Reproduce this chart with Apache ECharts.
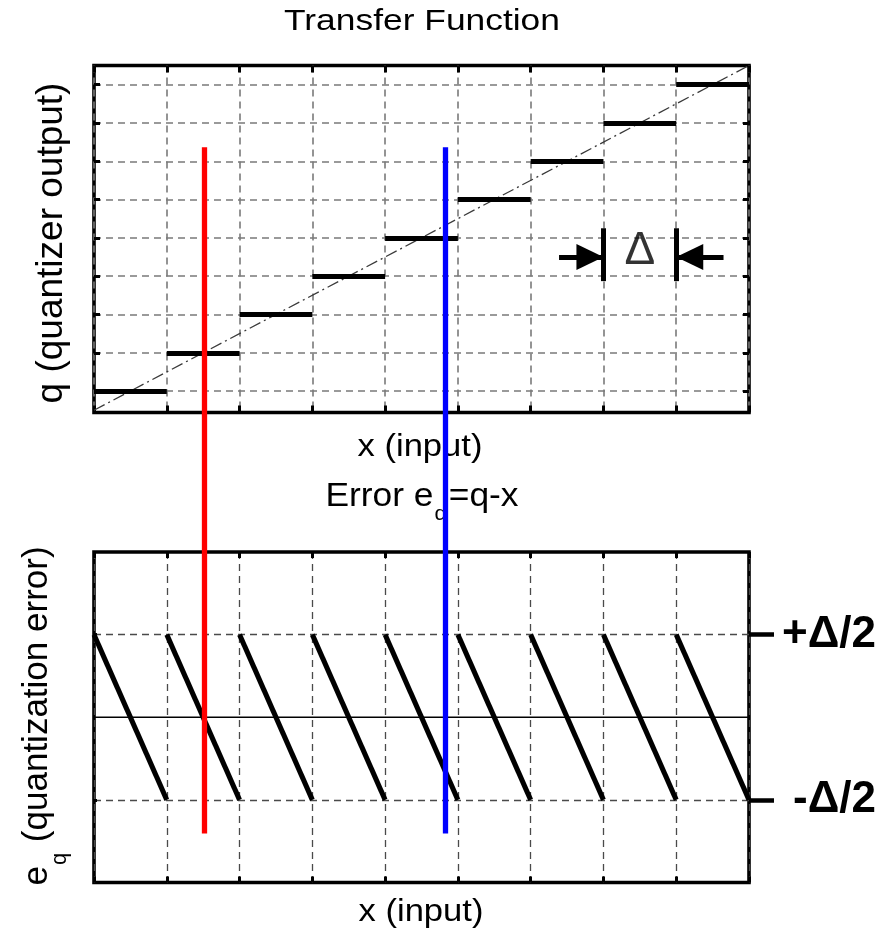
<!DOCTYPE html>
<html>
<head>
<meta charset="utf-8">
<script src="https://cdn.jsdelivr.net/npm/echarts@6/dist/echarts.min.js"></script>
<style>
  html, body { margin: 0; padding: 0; background: #fff; }
  #c { width: 884px; height: 935px; }
</style>
</head>
<body>
<div id="c"></div>
<script>
// Uniform quantizer: every input cell [start, end) maps to one output level
const cellStarts   = [0, 1, 2, 3, 4, 5, 6, 7, 8];
const cellEnds     = [1, 2, 3, 4, 5, 6, 7, 8, 9];
const outputLevels = [0, 1, 2, 3, 4, 5, 6, 7, 8];
const levelTicks   = [0, 1, 2, 3, 4, 5, 6, 7, 8];

// Unquantized reference response (dash-dot diagonal)
const idealX = [0, 9];
const idealQ = [-0.5, 8.5];

// Quantization error e_q = q - x at the start and the end of each cell
const errorAtStart = [0.5, 0.5, 0.5, 0.5, 0.5, 0.5, 0.5, 0.5, 0.5];
const errorAtEnd   = [-0.5, -0.5, -0.5, -0.5, -0.5, -0.5, -0.5, -0.5, -0.5];
const errorTickValues = [0.5, -0.5];
const errorTickLabels = ['+Δ/2', '-Δ/2'];
const zeroLineX = [0, 9];

// Two probe inputs drawn through both panels (y in % of the stacked height)
const probeInputs = [1.52, 4.83];
const probeColors = ['#ff0000', '#0000ff'];
const probeSpan   = [6, 90];

// Step-size marker: bars at the edges of one cell, arrows pointing at them
const deltaBarX      = [7, 8];
const deltaBarY      = [2.87, 4.25];
const deltaArrowFrom = [6.39, 8.65];
const deltaArrowY    = 3.5;

const FONT = '"Liberation Sans", Arial, Helvetica, sans-serif';
const chart = echarts.init(document.getElementById('c'), null, { renderer: 'canvas' });

const TOP = { left: 94, right: 135, top: 65.5, bottom: 522.5 };
const BOT = { left: 94, right: 135, top: 552, bottom: 52.5 };
const ALL = { left: 94, right: 135, top: 65.5, bottom: 52.5 };

const frame = { show: true, borderColor: '#000', borderWidth: 3.6, backgroundColor: 'transparent', outerBoundsMode: 'none' };

const topGrid = { color: '#7a7a7a', width: 1.6, type: [7, 5] };
const botGrid = { color: '#4a4a4a', width: 1.3, type: [7, 5] };

function xAxis(gridIndex, position, tickLen, split) {
  return {
    gridIndex, type: 'value', min: 0, max: 9, interval: 1, position,
    axisLine: { show: false, onZero: false },
    axisTick: { show: true, inside: true, length: tickLen, lineStyle: { color: '#000', width: 3 } },
    axisLabel: { show: false },
    splitLine: split ? { show: true, lineStyle: split } : { show: false }
  };
}

function yAxis(gridIndex, min, max, position, tick, split, label) {
  const ax = {
    gridIndex, type: 'value', min, max, position,
    axisLine: { show: false, onZero: false },
    axisTick: tick,
    axisLabel: label || { show: false },
    splitLine: split ? { show: true, lineStyle: split } : { show: false }
  };
  return ax;
}

// arrowhead whose tip sits on the line end (square bounding box keeps the centre on the tip)
const arrowHead = 'path://M-27,-27 M27,27 M0,0 L13,27 L-13,27 Z';

const levelTick = { show: true, inside: true, length: 6, customValues: levelTicks, lineStyle: { color: '#000', width: 3 } };

const option = {
  animation: false,
  backgroundColor: '#fff',
  grid: [
    Object.assign({}, frame, TOP),
    Object.assign({}, frame, BOT),
    Object.assign({ show: false, outerBoundsMode: 'none' }, ALL)
  ],
  xAxis: [
    xAxis(0, 'bottom', 7, topGrid),
    xAxis(0, 'top', 7, null),
    xAxis(1, 'bottom', 6, botGrid),
    xAxis(1, 'top', 6, null),
    { gridIndex: 2, type: 'value', min: 0, max: 9, show: false, axisLine: { onZero: false } }
  ],
  yAxis: [
    yAxis(0, -0.56, 8.5, 'left', levelTick, topGrid),
    yAxis(0, -0.56, 8.5, 'right', levelTick, null),
    yAxis(1, -1, 1, 'left',
      { show: true, inside: true, length: 3, customValues: errorTickValues, lineStyle: { color: '#000', width: 3 } },
      botGrid),
    yAxis(1, -1, 1, 'right',
      { show: true, inside: false, length: 25, customValues: errorTickValues, lineStyle: { color: '#000', width: 4.5 } },
      null,
      {
        show: true, customValues: errorTickValues,
        formatter: v => errorTickLabels[errorTickValues.indexOf(v)],
        color: '#000', fontFamily: FONT, fontSize: 44, fontWeight: 'bold',
        align: 'right', verticalAlign: 'middle', margin: 127
      }),
    { gridIndex: 2, type: 'value', min: 0, max: 100, show: false, axisLine: { onZero: false } }
  ],
  graphic: [
    { type: 'text', x: 422, y: 21.6, scaleX: 1.22, z: 0,
      style: { text: 'Transfer Function', fontFamily: FONT, fontSize: 29, fill: '#000', align: 'center', verticalAlign: 'middle' } },
    { type: 'text', x: 420, y: 447, scaleX: 1.08, z: 0,
      style: { text: 'x (input)', fontFamily: FONT, fontSize: 32, fill: '#000', align: 'center', verticalAlign: 'middle' } },
    { type: 'text', x: 422, y: 479.2, scaleX: 1.04, z: 0,
      style: {
        text: '{m|Error e}{s|q}{m|=q-x}', align: 'center', verticalAlign: 'top', fill: '#000',
        rich: {
          m: { fontFamily: FONT, fontSize: 34, lineHeight: 34, verticalAlign: 'top', fill: '#000' },
          s: { fontFamily: FONT, fontSize: 21, lineHeight: 21, verticalAlign: 'top', padding: [25, 2, 0, 1], fill: '#000' }
        }
      } },
    { type: 'text', x: 421, y: 912, scaleX: 1.08, z: 0,
      style: { text: 'x (input)', fontFamily: FONT, fontSize: 32, fill: '#000', align: 'center', verticalAlign: 'middle' } },
    { type: 'text', x: 51.4, y: 243, rotation: Math.PI / 2, z: 0,
      style: { text: 'q (quantizer output)', fontFamily: FONT, fontSize: 37, fill: '#000', align: 'center', verticalAlign: 'middle' } },
    { type: 'text', x: 19.9, y: 716, rotation: Math.PI / 2, z: 0,
      style: {
        text: '{m|e}{s|q}{m| (quantization error)}', align: 'center', verticalAlign: 'top', fill: '#000',
        rich: {
          m: { fontFamily: FONT, fontSize: 35, lineHeight: 35, verticalAlign: 'top', fill: '#000' },
          s: { fontFamily: FONT, fontSize: 22, lineHeight: 22, verticalAlign: 'top', padding: [29, 1, 0, 1], fill: '#000' }
        }
      } }
  ],
  series: [
    // reference diagonal
    {
      type: 'line', xAxisIndex: 0, yAxisIndex: 0, z: 2, symbol: 'none', silent: true,
      data: idealX.map((x, i) => [x, idealQ[i]]),
      lineStyle: { color: '#3a3a3a', width: 1.3, type: [12, 4, 2, 4] }
    },
    // quantizer staircase
    {
      type: 'lines', coordinateSystem: 'cartesian2d', xAxisIndex: 0, yAxisIndex: 0, z: 3,
      data: cellStarts.map((s, i) => ({ coords: [[s, outputLevels[i]], [cellEnds[i], outputLevels[i]]] })),
      lineStyle: { color: '#000', width: 5, opacity: 1, curveness: 0 }
    },
    // step-size bars
    {
      type: 'lines', coordinateSystem: 'cartesian2d', xAxisIndex: 0, yAxisIndex: 0, z: 3,
      data: deltaBarX.map(x => ({ coords: [[x, deltaBarY[0]], [x, deltaBarY[1]]] })),
      lineStyle: { color: '#000', width: 5, opacity: 1 }
    },
    // step-size arrows
    {
      type: 'lines', coordinateSystem: 'cartesian2d', xAxisIndex: 0, yAxisIndex: 0, z: 3,
      symbol: ['none', arrowHead], symbolSize: 54,
      data: deltaArrowFrom.map((from, i) => ({ coords: [[from, deltaArrowY], [deltaBarX[i], deltaArrowY]] })),
      lineStyle: { color: '#000', width: 5, opacity: 1 },
      itemStyle: { color: '#000' }
    },
    // Δ label between the bars
    {
      type: 'scatter', xAxisIndex: 0, yAxisIndex: 0, z: 3, symbolSize: 0, silent: true,
      data: [[(deltaBarX[0] + deltaBarX[1]) / 2, deltaArrowY]],
      label: {
        show: true, position: 'inside', formatter: 'Δ', fontFamily: FONT, fontSize: 46,
        color: '#000', textBorderWidth: 0, offset: [0, -6]
      }
    },
    // zero error line
    {
      type: 'line', xAxisIndex: 2, yAxisIndex: 2, z: 2, symbol: 'none', silent: true,
      data: zeroLineX.map(x => [x, 0]),
      lineStyle: { color: '#000', width: 1.6 }
    },
    // sawtooth error
    {
      type: 'lines', coordinateSystem: 'cartesian2d', xAxisIndex: 2, yAxisIndex: 2, z: 3,
      data: cellStarts.map((s, i) => ({ coords: [[s, errorAtStart[i]], [cellEnds[i], errorAtEnd[i]]] })),
      lineStyle: { color: '#000', width: 5, opacity: 1 }
    },
    // probe inputs through both panels
    {
      type: 'lines', coordinateSystem: 'cartesian2d', xAxisIndex: 4, yAxisIndex: 4, z: 10,
      data: probeInputs.map((x, i) => ({
        coords: [[x, probeSpan[1]], [x, probeSpan[0]]],
        lineStyle: { color: probeColors[i] }
      })),
      lineStyle: { width: 5.3, opacity: 1 }
    }
  ]
};

chart.setOption(option);
</script>
</body>
</html>
